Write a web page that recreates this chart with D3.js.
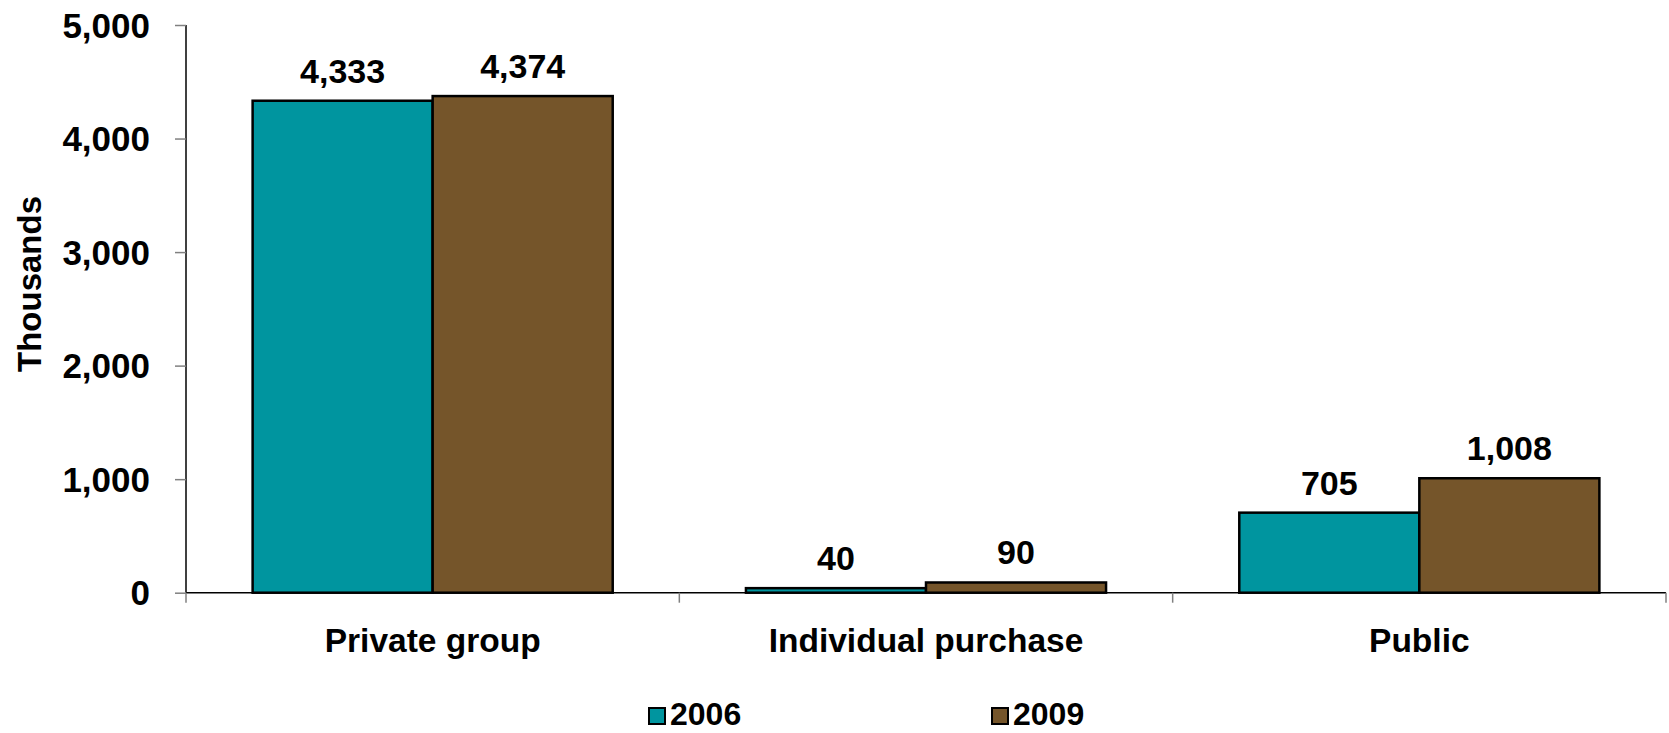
<!DOCTYPE html>
<html>
<head>
<meta charset="utf-8">
<script src="https://cdn.jsdelivr.net/npm/d3@7"></script>
<style>
  html, body { margin: 0; padding: 0; background: #fff; }
  svg { display: block; font-family: "Liberation Sans", Arial, sans-serif; font-weight: bold; }
</style>
</head>
<body>
<svg id="chart" width="1669" height="733"></svg>
<script>
// Coverage by source, in thousands
const categories = ["Private group", "Individual purchase", "Public"];
const seriesNames = ["2006", "2009"];
const values2006 = [4333, 40, 705];
const values2009 = [4374, 90, 1008];
const yTicks = [0, 1000, 2000, 3000, 4000, 5000];
const colors = ["#00959F", "#75552A"];

const svg = d3.select("#chart");
const margin = { left: 186, right: 3, top: 25, bottom: 140 };
const W = 1669, H = 733;
const plotBottom = 592.7;

const x = d3.scaleBand().domain(categories).range([margin.left, W - margin.right]).padding(0);
const xInner = d3.scaleBand().domain(seriesNames)
  .range([0, x.bandwidth()]).paddingInner(0).paddingOuter(0.37);
const y = d3.scaleLinear().domain([0, 5000]).range([plotBottom, margin.top]);

const fmt = d3.format(",");
const rows = categories.map((c, i) => ({ cat: c, vals: [values2006[i], values2009[i]] }));

// Y axis
const yAxis = svg.append("g")
  .attr("transform", `translate(${margin.left},0)`)
  .call(d3.axisLeft(y).tickValues(yTicks).tickFormat(fmt).tickSize(11).tickPadding(25));
yAxis.select(".domain").attr("stroke", "#000").attr("stroke-width", 1.5).attr("d", `M0,${y(5000)}V${plotBottom}`);
yAxis.selectAll(".tick line").attr("stroke", "#808080").attr("stroke-width", 1.5);
yAxis.selectAll(".tick text").attr("font-size", 35).attr("fill", "#000").attr("dy", "0.35em");

// X axis
const xAxisG = svg.append("g").attr("transform", `translate(0,${plotBottom})`);
xAxisG.append("line").attr("x1", margin.left).attr("x2", W - margin.right)
  .attr("stroke", "#000").attr("stroke-width", 1.5);
const boundaries = categories.map(c => x(c)).concat([x(categories[categories.length - 1]) + x.bandwidth()]);
xAxisG.selectAll("line.sep").data(boundaries).join("line").attr("class", "sep")
  .attr("x1", d => d).attr("x2", d => d).attr("y1", 0).attr("y2", 10)
  .attr("stroke", "#808080").attr("stroke-width", 1.5);
xAxisG.selectAll("text.cat").data(categories).join("text").attr("class", "cat")
  .attr("x", d => x(d) + x.bandwidth() / 2).attr("y", 59)
  .attr("text-anchor", "middle").attr("font-size", 33.5).text(d => d);

// Bars
const groups = svg.append("g").selectAll("g").data(rows).join("g")
  .attr("transform", d => `translate(${x(d.cat)},0)`);
groups.selectAll("rect").data(d => d.vals.map((v, i) => ({ v, s: seriesNames[i], i })))
  .join("rect")
  .attr("x", d => xInner(d.s)).attr("width", xInner.bandwidth())
  .attr("y", d => y(d.v)).attr("height", d => plotBottom - y(d.v))
  .attr("fill", d => colors[d.i]).attr("stroke", "#000").attr("stroke-width", 2.5);
groups.selectAll("text").data(d => d.vals.map((v, i) => ({ v, s: seriesNames[i], i })))
  .join("text")
  .attr("x", d => xInner(d.s) + xInner.bandwidth() / 2)
  .attr("y", d => y(d.v) - 18)
  .attr("text-anchor", "middle").attr("font-size", 34).text(d => fmt(d.v));

// Y axis title
svg.append("text").attr("transform", "translate(41,284) rotate(-90)")
  .attr("text-anchor", "middle").attr("font-size", 33).text("Thousands");

// Legend
const legendX = [649, 992];
const legend = svg.append("g").selectAll("g").data(seriesNames).join("g")
  .attr("transform", (d, i) => `translate(${legendX[i]},0)`);
legend.append("rect").attr("x", 0).attr("y", 708).attr("width", 16).attr("height", 16)
  .attr("fill", (d, i) => colors[i]).attr("stroke", "#000").attr("stroke-width", 2);
legend.append("text").attr("x", 21).attr("y", 725).attr("font-size", 32).text(d => d);
</script>
</body>
</html>
